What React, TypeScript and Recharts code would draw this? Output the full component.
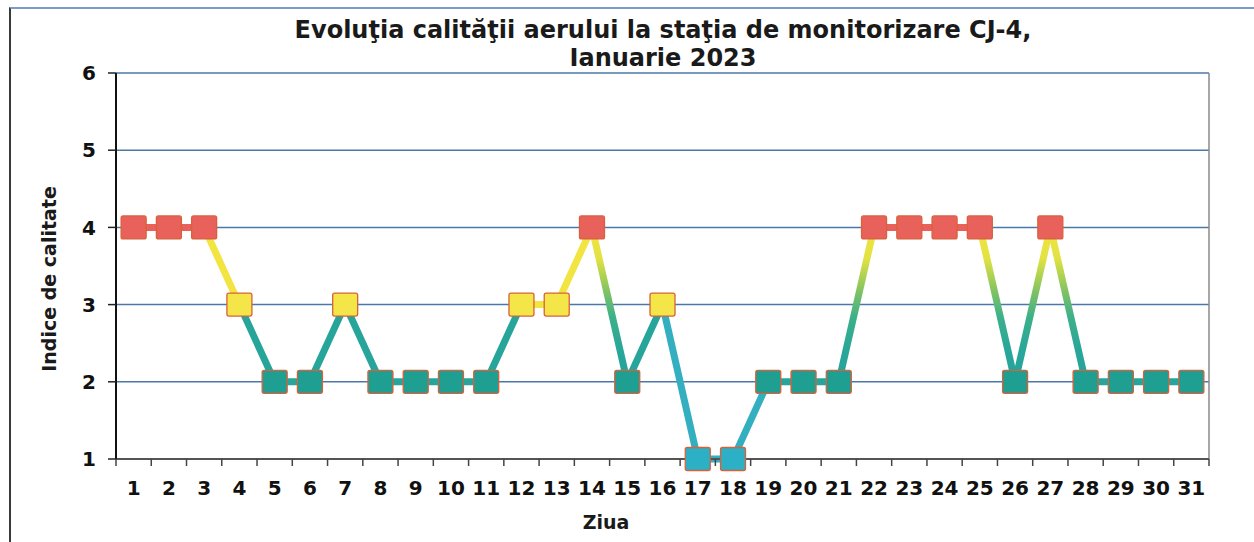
import React from 'react';
import { LineChart, Line, XAxis, YAxis, CartesianGrid, ReferenceLine } from 'recharts';

const days = [1, 2, 3, 4, 5, 6, 7, 8, 9, 10, 11, 12, 13, 14, 15, 16, 17, 18, 19, 20, 21, 22, 23, 24, 25, 26, 27, 28, 29, 30, 31];
const quality = [4, 4, 4, 3, 2, 2, 3, 2, 2, 2, 2, 3, 3, 4, 2, 3, 1, 1, 2, 2, 2, 4, 4, 4, 4, 2, 4, 2, 2, 2, 2];
const yTicks = [1, 2, 3, 4, 5, 6];
const titleLines = ['Evoluţia calităţii aerului la staţia de monitorizare CJ-4,', 'Ianuarie 2023'];
const yTitle = 'Indice de calitate';
const xTitle = 'Ziua';

const W = 1254;
const H = 542;
const X_AXIS_H = 30;
const M = { top: 73, right: 45, bottom: 542 - 459 - X_AXIS_H, left: 20 };
const Y_AXIS_W = 96;
const PLOT_W = W - M.left - M.right - Y_AXIS_W;
const HALF_BAND = PLOT_W / days.length / 2;
const FONT = '"DejaVu Sans", Verdana, sans-serif';

const markerFill: Record<number, string> = { 4: '#e8615a', 3: '#f4e548', 2: '#1f9e92', 1: '#2cb0c6' };

function segType(a: number, b: number): string {
  if (a === b) return a === 4 ? 'red' : a === 3 ? 'yellow' : a === 2 ? 'teal' : 'blue';
  const lo = Math.min(a, b);
  const hi = Math.max(a, b);
  if (lo === 3 && hi === 4) return 'yellow';
  if (lo === 2 && hi === 3) return 'teal';
  if (lo === 2 && hi === 4) return 'grad';
  return 'blue';
}

const rows: any[] = days.map((d, i) => ({ day: d, v: quality[i], red: null, yellow: null, teal: null, blue: null, grad: null }));
for (let i = 0; i < quality.length - 1; i++) {
  const t = segType(quality[i], quality[i + 1]);
  rows[i][t] = quality[i];
  rows[i + 1][t] = quality[i + 1];
}

const segColors: Record<string, string> = {
  red: '#e8615a',
  yellow: '#f2e441',
  teal: '#27a59b',
  blue: '#33afc0',
  grad: 'url(#gradSeg)',
};

const XTick = (props: any) => {
  const { x, y, payload, index } = props;
  const last = index === days.length - 1;
  return (
    <g>
      <line x1={x - HALF_BAND} x2={x - HALF_BAND} y1={y} y2={y + 7} stroke="#444" strokeWidth={1.5} />
      {last && <line x1={x + HALF_BAND} x2={x + HALF_BAND} y1={y} y2={y + 7} stroke="#444" strokeWidth={1.5} />}
      <text x={x} y={y + 29} dy="0.35em" textAnchor="middle" fontFamily={FONT} fontWeight="bold" fontSize={20} fill="#111">
        {payload.value}
      </text>
    </g>
  );
};

const Square = (props: any) => {
  const { cx, cy, payload, index } = props;
  if (cx == null || cy == null) return <g key={`m${index}`} />;
  const w = 25;
  const h = 23;
  return (
    <rect key={`m${index}`} x={cx - w / 2} y={cy - h / 2} width={w} height={h} rx={2} fill={markerFill[payload.v]} stroke="#d8613c" strokeWidth={1.3} />
  );
};

export default function App() {
  return (
    <div style={{ position: 'absolute', left: 0, top: 0, width: W, height: H, background: '#fff', overflow: 'hidden' }}>
      <div style={{ position: 'absolute', left: 9, top: 7, width: W, height: H, borderLeft: '2px solid #3a3a3a', borderTop: '2px solid #7a9cc8' }} />
      <div style={{ position: 'absolute', left: 0, width: 1326, top: 16, textAlign: 'center', fontFamily: FONT, fontWeight: 'bold', fontSize: 24, lineHeight: '28px', color: '#1a1a1a' }}>
        <div>{titleLines[0]}</div>
        <div>{titleLines[1]}</div>
      </div>
      <div style={{ position: 'absolute', left: 49, top: 279, transform: 'translate(-50%, -50%) rotate(-90deg)', whiteSpace: 'nowrap', fontFamily: FONT, fontWeight: 'bold', fontSize: 19, color: '#1a1a1a' }}>
        {yTitle}
      </div>
      <div style={{ position: 'absolute', left: 606, top: 522, transform: 'translate(-50%, -50%)', whiteSpace: 'nowrap', fontFamily: FONT, fontWeight: 'bold', fontSize: 19, color: '#1a1a1a' }}>
        {xTitle}
      </div>
      <div style={{ position: 'absolute', left: 0, top: 0 }}>
        <LineChart width={W} height={H} data={rows} margin={M}>
          <defs>
            <linearGradient id="gradSeg" x1="0" y1="0" x2="0" y2="1">
              <stop offset="0" stopColor="#f2e441" />
              <stop offset="0.2" stopColor="#e2e242" />
              <stop offset="0.42" stopColor="#7ec264" />
              <stop offset="0.58" stopColor="#3cb08a" />
              <stop offset="0.8" stopColor="#29a69a" />
              <stop offset="1" stopColor="#25a49b" />
            </linearGradient>
          </defs>
          <CartesianGrid horizontal vertical={false} stroke="#4a78a8" strokeWidth={1.5} />
          <XAxis
            dataKey="day"
            type="number"
            domain={[0.5, 31.5]}
            ticks={days}
            interval={0}
            height={X_AXIS_H}
            tickLine={false}
            tickSize={0}
            tickMargin={0}
            axisLine={{ stroke: '#555', strokeWidth: 2 }}
            tick={<XTick />}
          />
          <YAxis
            type="number"
            domain={[1, 6]}
            ticks={yTicks}
            interval={0}
            width={Y_AXIS_W}
            tickSize={8}
            tickMargin={12}
            tickLine={{ stroke: '#222', strokeWidth: 1.5 }}
            axisLine={{ stroke: '#111', strokeWidth: 2 }}
            tick={{ fill: '#111', fontFamily: FONT, fontWeight: 'bold', fontSize: 20 }}
          />
          <ReferenceLine x={31.5} stroke="#8a8a8a" strokeWidth={1.5} />
          {['red', 'yellow', 'teal', 'blue', 'grad'].map((k) => (
            <Line
              key={k}
              dataKey={k}
              type="linear"
              stroke={segColors[k]}
              strokeWidth={7}
              dot={false}
              activeDot={false}
              connectNulls={false}
              isAnimationActive={false}
            />
          ))}
          <Line dataKey="v" type="linear" stroke="none" strokeWidth={0} dot={Square} activeDot={false} isAnimationActive={false} />
        </LineChart>
      </div>
    </div>
  );
}
